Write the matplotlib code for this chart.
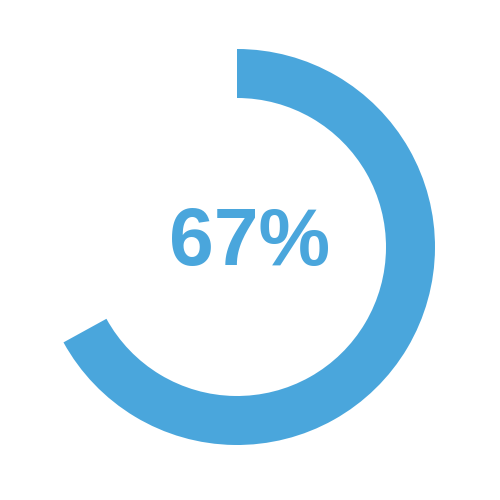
import matplotlib
matplotlib.use("Agg")
import matplotlib.pyplot as plt
from matplotlib.patches import Wedge

# gauge value
percent = 67
label = f"{percent}%"
color = "#4aa6dc"

fig = plt.figure(figsize=(5, 5), dpi=100)
ax = fig.add_axes([0, 0, 1, 1])
ax.set_xlim(0, 500)
ax.set_ylim(0, 500)
ax.set_aspect("equal")
ax.axis("off")

# ring starts at 12 o'clock and runs clockwise
sweep = 360 * percent / 100
ring = Wedge((237, 253), 198, 90 - sweep, 90, width=49, color=color, lw=0)
ax.add_patch(ring)

ax.text(250, 235, label, ha="center", va="baseline", color=color,
        fontsize=58, fontweight="bold", family="Liberation Sans")

fig.savefig("out.png", dpi=100, facecolor="white")
